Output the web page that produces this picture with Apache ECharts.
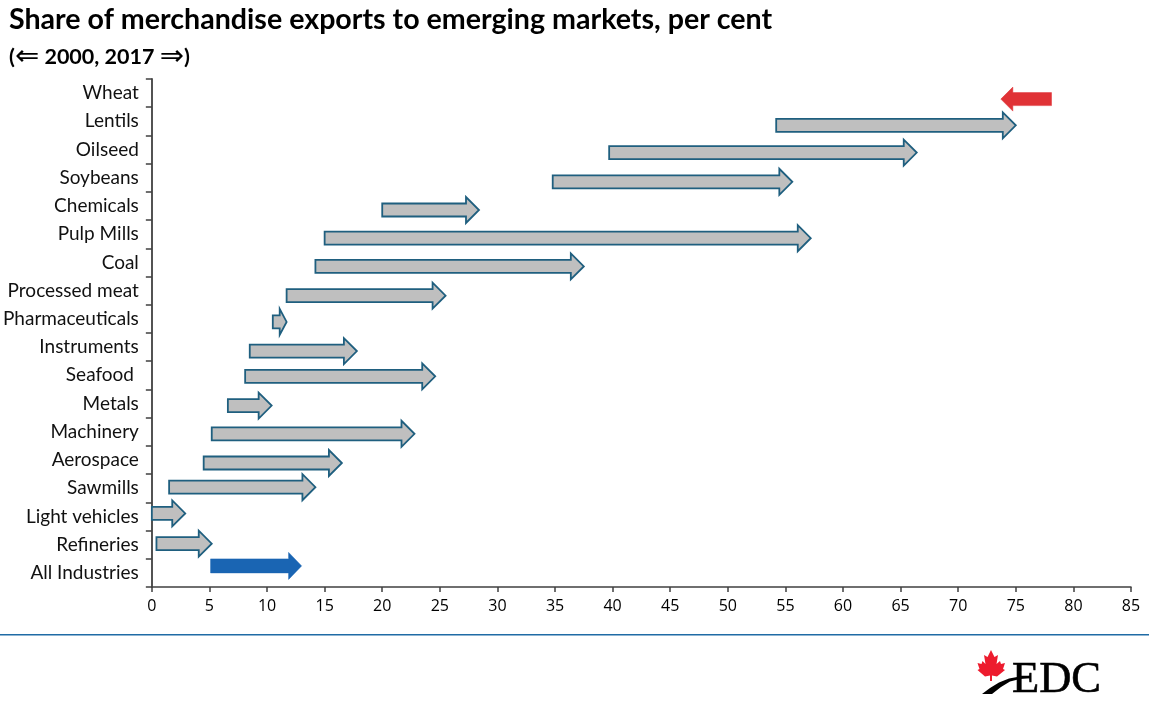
<!DOCTYPE html>
<html>
<head>
<meta charset="utf-8">
<title>Share of merchandise exports to emerging markets</title>
<script src="https://cdn.jsdelivr.net/npm/echarts@6/dist/echarts.min.js"></script>
<style>
  html, body { margin: 0; padding: 0; background: #fff; }
  #chart { width: 1152px; height: 707px; }
</style>
</head>
<body>
<div id="chart"></div>
<script>
const categories = ['Wheat', 'Lentils', 'Oilseed', 'Soybeans', 'Chemicals', 'Pulp Mills', 'Coal', 'Processed meat',
    'Pharmaceuticals', 'Instruments', 'Seafood ', 'Metals', 'Machinery', 'Aerospace', 'Sawmills', 'Light vehicles',
    'Refineries', 'All Industries'];

// share in per cent
const share2000 = [78.1, 54.2, 39.7, 34.8, 20.0, 15.0, 14.2, 11.7, 10.5, 8.5, 8.1, 6.6, 5.2, 4.5, 1.5, 0, 0.4, 5.1];
const share2017 = [73.7, 75.0, 66.4, 55.6, 28.4, 57.2, 37.5, 25.5, 11.7, 17.8, 24.6, 10.4, 22.8, 16.5, 14.2, 2.9, 5.2, 13.0];

const xTicks = { min: 0, max: 85, interval: 5 };

// the arrows were placed by hand in the original, so they sit a bit off the band centre
const rowNudge = [6, 4, 3, 4, 4, 4, 4, 5, 3, 4, 1, 2, 2, 3, -1, -3, -1, -7];

function arrowStyle(i) {
    if (categories[i] === 'Wheat') return { fill: '#e03236', stroke: '#e03236', lineWidth: 0.5, shaft: 6.5, head: 12, len: 12 };
    if (categories[i] === 'All Industries') return { fill: '#1a65b3', stroke: '#1a65b3', lineWidth: 0.5, shaft: 7, head: 13.5, len: 13 };
    return { fill: '#bfbfbf', stroke: '#1f5f7f', lineWidth: 1.8, shaft: 6.5, head: 13, len: 13 };
}

function renderArrow(params, api) {
    const i = api.value(2);
    const y = api.coord([0, i])[1] + rowNudge[i];
    const x0 = api.coord([api.value(0), i])[0];
    const x1 = api.coord([api.value(1), i])[0];
    const s = arrowStyle(i);
    const dir = x1 >= x0 ? 1 : -1;
    // short arrows (Pharmaceuticals) get a shorter head so the tail still shows
    const len = Math.min(s.len, Math.abs(x1 - x0) / 2);
    const neck = x1 - dir * len;
    return {
        type: 'polygon',
        shape: {
            points: [
                [x0, y - s.shaft], [neck, y - s.shaft], [neck, y - s.head], [x1, y],
                [neck, y + s.head], [neck, y + s.shaft], [x0, y + s.shaft]
            ]
        },
        style: { fill: s.fill, stroke: s.stroke, lineWidth: s.lineWidth, lineJoin: 'miter' }
    };
}

const myChart = echarts.init(document.getElementById('chart'));

const option = {
    animation: false,
    backgroundColor: '#fff',
    title: [
        {
            text: 'Share of merchandise exports to emerging markets, per cent',
            left: 9, top: 5, padding: 0,
            textStyle: { fontFamily: 'Lato', fontWeight: 700, fontSize: 28.6, color: '#000' }
        },
        {
            text: '{b|(}{a|\u21D0}{b| 2000, 2017 }{a|\u21D2}{b|)}',
            left: 9, top: 43, padding: 0,
            textStyle: {
                rich: {
                    a: { fontFamily: '"DejaVu Sans"', fontSize: 29, fontWeight: 400, color: '#000' },
                    b: { fontFamily: 'Lato', fontSize: 21.5, fontWeight: 700, color: '#000' }
                }
            }
        }
    ],
    grid: { left: 151.5, right: 21, top: 79, bottom: 120 },
    xAxis: {
        type: 'value',
        min: xTicks.min, max: xTicks.max, interval: xTicks.interval,
        splitLine: { show: false },
        axisLine: { show: true, lineStyle: { color: '#404040', width: 1.5 } },
        axisTick: { show: true, length: 5, lineStyle: { color: '#404040', width: 1.5 } },
        axisLabel: { fontFamily: '"Open Sans"', fontSize: 16, color: '#000', margin: 11 }
    },
    yAxis: {
        type: 'category',
        inverse: true,
        data: categories,
        axisLine: { show: true, onZero: false, lineStyle: { color: '#404040', width: 1.8 } },
        axisTick: { show: true, length: 6, alignWithLabel: false, lineStyle: { color: '#404040', width: 1.5 } },
        axisLabel: { fontFamily: 'Lato', fontSize: 19, color: '#111', margin: 13, interval: 0 }
    },
    series: [{
        type: 'custom',
        renderItem: renderArrow,
        clip: false,
        encode: { x: [0, 1], y: 2 },
        data: categories.map((c, i) => [share2000[i], share2017[i], i])
    }],
    graphic: [
        // footer rule
        { type: 'rect', shape: { x: 0, y: 634, width: 1149, height: 1.5 }, style: { fill: '#1f6ba5' } },
        // EDC logo
        {
            type: 'polygon',
            shape: {
                points: [[991, 650], [994.5, 657], [998, 655], [996.5, 664], [1000, 661], [1001, 664], [1005, 663],
                    [1003, 669], [1005, 670], [997, 676.5], [992, 675.5], [992, 681], [990, 681], [990, 675.5],
                    [985, 676.5], [977.5, 670], [979.5, 669], [977.5, 663], [981.5, 664], [982.5, 661], [985.5, 664],
                    [984, 655], [987.5, 657]]
            },
            style: { fill: '#ed1c2e' }
        },
        {
            type: 'text',
            style: { x: 1012, y: 703, text: 'EDC', fontFamily: '"Liberation Serif"', fontSize: 44.5, fill: '#000',
                stroke: '#000', lineWidth: 0.6, verticalAlign: 'bottom' }
        },
        {
            type: 'polygon',
            shape: {
                points: [[982, 694], [990, 688], [999, 682.5], [1009, 678.5], [1020, 676.5], [1030, 676],
                    [1030, 678], [1020, 679], [1010, 681.5], [1001, 687], [992, 694]]
            },
            style: { fill: '#000' }
        }
    ]
};

myChart.setOption(option);
</script>
</body>
</html>
